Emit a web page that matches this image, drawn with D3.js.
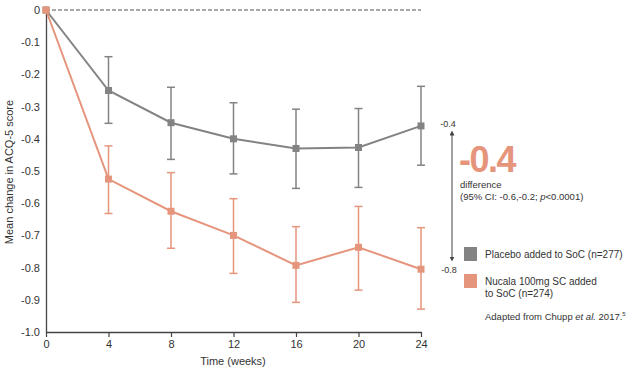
<!DOCTYPE html>
<html>
<head>
<meta charset="utf-8">
<script src="https://cdn.jsdelivr.net/npm/d3@7"></script>
<style>
  body { margin: 0; background: #fff; }
  text { font-family: "Liberation Sans", Arial, sans-serif; fill: #333; }
</style>
</head>
<body>
<svg id="chart" width="642" height="376"></svg>
<script>
var weeks = [0, 4, 8, 12, 16, 20, 24];
var placebo = [0, -0.25, -0.35, -0.40, -0.43, -0.427, -0.36];
var placeboLo = [0, -0.352, -0.464, -0.509, -0.554, -0.551, -0.482];
var placeboHi = [0, -0.145, -0.24, -0.288, -0.308, -0.306, -0.237];
var nucala = [0, -0.525, -0.625, -0.70, -0.793, -0.737, -0.805];
var nucalaLo = [0, -0.632, -0.74, -0.818, -0.908, -0.87, -0.929];
var nucalaHi = [0, -0.422, -0.505, -0.586, -0.673, -0.61, -0.676];
var yTicks = [0, -0.1, -0.2, -0.3, -0.4, -0.5, -0.6, -0.7, -0.8, -0.9, -1.0];
var yTickLabels = ["0", "-0.1", "-0.2", "-0.3", "-0.4", "-0.5", "-0.6", "-0.7", "-0.8", "-0.9", "-1.0"];

var grey = "#838383";
var orange = "#e6957d";

var svg = d3.select("#chart");
var x = d3.scaleLinear().domain([0, 24]).range([46, 421]);
var y = d3.scaleLinear().domain([0, -1]).range([10, 332]);

// dashed zero line
svg.append("line")
  .attr("x1", x(0)).attr("x2", x(24))
  .attr("y1", y(0)).attr("y2", y(0))
  .attr("stroke", "#555").attr("stroke-width", 1)
  .attr("stroke-dasharray", "4,2");

// y axis
var yAxis = svg.append("g")
  .attr("transform", "translate(" + x(0) + ",0)")
  .call(d3.axisLeft(y).tickValues(yTicks)
    .tickFormat(function(d, i){ return yTickLabels[i]; })
    .tickSize(0).tickPadding(6));
yAxis.select(".domain").attr("stroke", "#444").attr("stroke-width", 1.3);
yAxis.selectAll("text").style("font-size", "11px").attr("fill", "#333")
  .style("font-family", "Liberation Sans, Arial, sans-serif");

// x axis
var xAxis = svg.append("g")
  .attr("transform", "translate(0," + y(-1) + ")")
  .call(d3.axisBottom(x).tickValues(weeks).tickSizeOuter(0).tickSizeInner(5).tickPadding(3));
xAxis.select(".domain").attr("stroke", "#444").attr("stroke-width", 1.3);
xAxis.selectAll(".tick line").attr("stroke", "#444").attr("stroke-width", 1.2);
xAxis.selectAll("text").style("font-size", "11px").attr("fill", "#333")
  .style("font-family", "Liberation Sans, Arial, sans-serif");

svg.append("text")
  .attr("x", 233).attr("y", 365)
  .attr("text-anchor", "middle")
  .style("font-size", "11px")
  .text("Time (weeks)");

svg.append("text")
  .attr("transform", "translate(13,172) rotate(-90)")
  .attr("text-anchor", "middle")
  .style("font-size", "11px")
  .text("Mean change in ACQ-5 score");

function drawSeries(vals, lo, hi, color) {
  var g = svg.append("g");
  var line = d3.line().x(function(d, i){ return x(weeks[i]); }).y(function(d){ return y(d); });
  g.append("path").datum(vals)
    .attr("d", line)
    .attr("fill", "none")
    .attr("stroke", color)
    .attr("stroke-width", 2);

  var idx = d3.range(1, weeks.length);
  g.selectAll("line.err").data(idx).enter().append("line")
    .attr("x1", function(i){ return x(weeks[i]); })
    .attr("x2", function(i){ return x(weeks[i]); })
    .attr("y1", function(i){ return y(lo[i]); })
    .attr("y2", function(i){ return y(hi[i]); })
    .attr("stroke", color).attr("stroke-width", 1.5);
  g.selectAll("line.caplo").data(idx).enter().append("line")
    .attr("x1", function(i){ return x(weeks[i]) - 4; })
    .attr("x2", function(i){ return x(weeks[i]) + 4; })
    .attr("y1", function(i){ return y(lo[i]); })
    .attr("y2", function(i){ return y(lo[i]); })
    .attr("stroke", color).attr("stroke-width", 1.5);
  g.selectAll("line.caphi").data(idx).enter().append("line")
    .attr("x1", function(i){ return x(weeks[i]) - 4; })
    .attr("x2", function(i){ return x(weeks[i]) + 4; })
    .attr("y1", function(i){ return y(hi[i]); })
    .attr("y2", function(i){ return y(hi[i]); })
    .attr("stroke", color).attr("stroke-width", 1.5);

  g.selectAll("rect").data(vals).enter().append("rect")
    .attr("x", function(d, i){ return x(weeks[i]) - 3.5; })
    .attr("y", function(d){ return y(d) - 3.5; })
    .attr("width", 7).attr("height", 7)
    .attr("fill", color);
}

drawSeries(placebo, placeboLo, placeboHi, grey);
drawSeries(nucala, nucalaLo, nucalaHi, orange);

// difference annotation
var ax = 452;
svg.append("defs").html(
  '<marker id="arr" viewBox="0 0 6 6" refX="3" refY="3" markerWidth="5" markerHeight="5" orient="auto-start-reverse">' +
  '<path d="M0,0 L6,3 L0,6 z" fill="#444"/></marker>');
svg.append("line")
  .attr("x1", ax).attr("x2", ax)
  .attr("y1", 133).attr("y2", 259)
  .attr("stroke", "#444").attr("stroke-width", 1)
  .attr("marker-start", "url(#arr)")
  .attr("marker-end", "url(#arr)");
svg.append("text").attr("x", 448).attr("y", 127).attr("text-anchor", "middle")
  .style("font-size", "9px").text("-0.4");
svg.append("text").attr("x", 449).attr("y", 273).attr("text-anchor", "middle")
  .style("font-size", "9px").text("-0.8");

svg.append("text").attr("x", 459).attr("y", 172)
  .style("font-size", "36px").style("font-weight", "bold")
  .style("letter-spacing", "-1.5px")
  .style("fill", orange).text("-0.4");
svg.append("text").attr("x", 460).attr("y", 188)
  .style("font-size", "9.5px").text("difference");
var ci = svg.append("text").attr("x", 460).attr("y", 200).style("font-size", "9.5px");
ci.append("tspan").text("(95% CI: -0.6,-0.2; ");
ci.append("tspan").style("font-style", "italic").text("p");
ci.append("tspan").text("<0.0001)");

// legend
svg.append("rect").attr("x", 464).attr("y", 247).attr("width", 13).attr("height", 14).attr("fill", grey);
svg.append("rect").attr("x", 464).attr("y", 274).attr("width", 13).attr("height", 14).attr("fill", orange);
svg.append("text").attr("x", 485).attr("y", 258).style("font-size", "10px").text("Placebo added to SoC (n=277)");
svg.append("text").attr("x", 485).attr("y", 285).style("font-size", "10px").text("Nucala 100mg SC added");
svg.append("text").attr("x", 485).attr("y", 297).style("font-size", "10px").text("to SoC (n=274)");
var src = svg.append("text").attr("x", 485).attr("y", 320).style("font-size", "9.5px");
src.append("tspan").text("Adapted from Chupp ");
src.append("tspan").style("font-style", "italic").text("et al.");
src.append("tspan").text(" 2017.");
src.append("tspan").attr("dy", -4).style("font-size", "6px").text("5");
</script>
</body>
</html>
